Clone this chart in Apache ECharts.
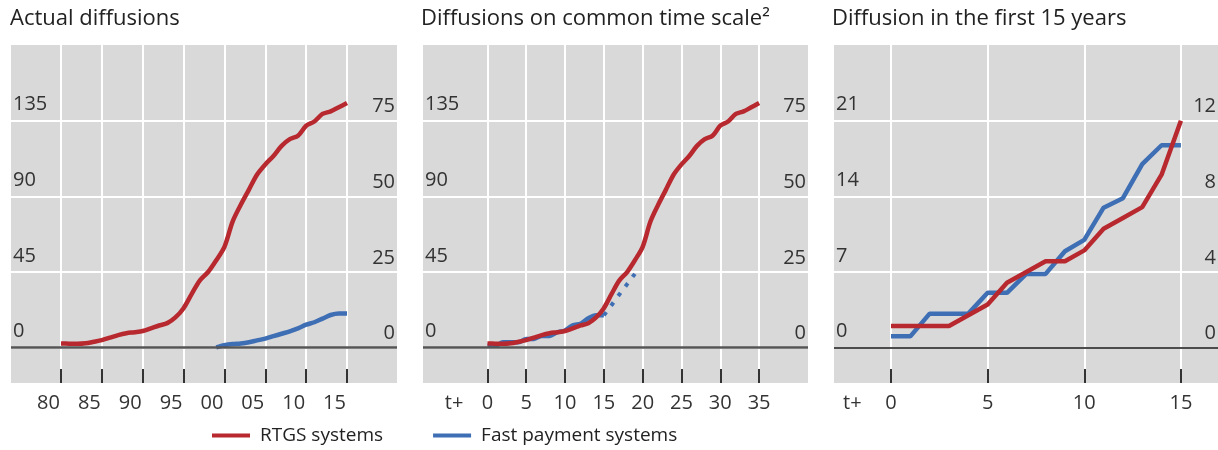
<!DOCTYPE html>
<html>
<head>
<meta charset="utf-8">
<script src="https://cdn.jsdelivr.net/npm/echarts@6/dist/echarts.min.js"></script>
<style>
  html, body { margin: 0; background: #fff; }
  #chart { width: 1218px; height: 450px; }
</style>
</head>
<body>
<div id="chart"></div>
<script>
// panel 1: actual diffusions (calendar years)
const years = [1980, 1981, 1982, 1983, 1984, 1985, 1986, 1987, 1988, 1989,
  1990, 1991, 1992, 1993, 1994, 1995, 1996, 1997, 1998, 1999,
  2000, 2001, 2002, 2003, 2004, 2005, 2006, 2007, 2008, 2009,
  2010, 2011, 2012, 2013, 2014, 2015];
const rtgsActual = [2.5, 2.4, 2.3, 2.6, 3.5, 4.5, 6, 7.5, 8.6, 9.2,
  9.9, 11.5, 13.2, 14.6, 18, 23.5, 32, 40, 45, 52,
  60, 75, 85, 94, 103, 109, 114, 120, 124, 126,
  132, 134.5, 139, 140.5, 143, 145.5];
const fpsYears = [1999, 2000, 2001, 2002, 2003, 2004, 2005, 2006, 2007,
  2008, 2009, 2010, 2011, 2012, 2013, 2014, 2015];
const fpsActual = [0.1, 0.8, 1.2, 1.4, 1.8, 2.4, 3.0, 3.8, 4.6,
  5.4, 6.4, 7.6, 8.4, 9.6, 10.8, 11.3, 11.3];

// panel 2: common time scale (t+ years since start)
const commonT = [0, 1, 2, 3, 4, 5, 6, 7, 8, 9, 10, 11, 12, 13, 14, 15, 16, 17,
  18, 19, 20, 21, 22, 23, 24, 25, 26, 27, 28, 29, 30, 31, 32, 33, 34, 35];
const projT = [15, 16, 17, 18, 19];
const fpsProjection = [10.7, 14.1, 17.6, 21.0, 24.4];

// panel 3: first 15 years
const first15T = [0, 1, 2, 3, 4, 5, 6, 7, 8, 9, 10, 11, 12, 13, 14, 15];
const rtgsFirst15 = [2, 2, 2, 2, 3, 4, 6, 7, 8, 8, 9, 11, 12, 13, 16, 21];
const fpsFirst15 = [0.6, 0.6, 1.8, 1.8, 1.8, 2.9, 2.9, 3.9, 3.9, 5.1, 5.7, 7.4, 7.9, 9.7, 10.7, 10.7];

// ticks
const yearTicks = [1980, 1985, 1990, 1995, 2000, 2005, 2010, 2015];
const commonTicks = [0, 5, 10, 15, 20, 25, 30, 35];
const first15Ticks = [0, 5, 10, 15];
const leftTicks = [0, 45, 90, 135];
const rightTicks = [0, 25, 50, 75];
const leftTicks15 = [0, 7, 14, 21];
const rightTicks15 = [0, 4, 8, 12];

const FONT = "Open Sans";
const RED = "#b8292f";
const BLUE = "#3e6eb4";
const zip = (xs, ys) => xs.map((x, i) => [x, ys[i]]);

const chart = echarts.init(document.getElementById("chart"));

const gridBase = { top: 45, height: 338, show: true, backgroundColor: "#d9d9d9", borderWidth: 0, outerBoundsMode: "none" };

const xAxisBase = (gridIndex, min, max, ticks, labels, formatter, pad) => ({
  type: "value",
  gridIndex,
  min,
  max,
  axisLine: { show: false, onZero: false },
  axisTick: { show: true, inside: true, length: 14, lineStyle: { color: "#333", width: 2 }, customValues: ticks },
  axisLabel: { margin: 10, fontSize: 20, fontFamily: FONT, color: "#333", customValues: labels, formatter, padding: pad },
  splitLine: { show: true, lineStyle: { color: "#fff", width: 2 } },
});

const yAxisBase = (gridIndex, pos, min, max, ticks, pad, grid) => ({
  type: "value",
  gridIndex,
  position: pos,
  min,
  max,
  axisLine: { show: false },
  axisTick: { show: false, customValues: ticks },
  axisLabel: { inside: true, margin: 2, fontSize: 20, fontFamily: FONT, color: "#333",
    verticalAlign: "bottom", padding: pad, customValues: ticks },
  splitLine: { show: grid, lineStyle: { color: "#fff", width: 2 } },
});

const zeroLine = (color, width) => ({
  silent: true,
  symbol: "none",
  label: { show: false },
  lineStyle: { color, width, type: "solid" },
  data: [{ yAxis: 0 }],
});

const lineSeries = (name, x, y, data, color, extra) => Object.assign({
  name,
  type: "line",
  xAxisIndex: x,
  yAxisIndex: y,
  data,
  color,
  symbol: "none",
  smooth: false,
  lineStyle: { color, width: 4.5 },
}, extra || {});

const titleStyle = { fontSize: 22, fontWeight: "normal", color: "#222", fontFamily: FONT };

chart.setOption({
  animation: false,
  title: [
    { text: "Actual diffusions", left: 10, top: 8, padding: 0, textStyle: titleStyle },
    { text: "Diffusions on common time scale\u00B2", left: 421, top: 8, padding: 0, textStyle: titleStyle },
    { text: "Diffusion in the first 15 years", left: 832, top: 8, padding: 0, textStyle: titleStyle },
  ],
  legend: {
    data: ["RTGS systems", "Fast payment systems"],
    left: 207,
    top: 421,
    icon: "rect",
    itemWidth: 38,
    itemHeight: 4,
    itemGap: 50,
    textStyle: { fontFamily: FONT, fontSize: 19, color: "#222", padding: [0, 0, 0, 5] },
  },
  grid: [
    Object.assign({ left: 11, width: 386 }, gridBase),
    Object.assign({ left: 423, width: 385 }, gridBase),
    Object.assign({ left: 834, width: 384 }, gridBase),
  ],
  xAxis: [
    xAxisBase(0, 1973.88, 2021.12, yearTicks, yearTicks, v => String(v).slice(2), [0, 25, 0, 0]),
    xAxisBase(1, -8.3, 41.3, commonTicks, [-4.3].concat(commonTicks), v => (v < 0 ? "t+" : v), 0),
    xAxisBase(2, -2.95, 16.92, first15Ticks, [-2].concat(first15Ticks), v => (v < 0 ? "t+" : v), 0),
  ],
  yAxis: [
    yAxisBase(0, "left", -21, 180, leftTicks, [0, 0, 6, 0], true),
    yAxisBase(0, "right", -21 * 25 / 45, 100, rightTicks, [0, 0, 4, 0], false),
    yAxisBase(1, "left", -21, 180, leftTicks, [0, 0, 6, 0], true),
    yAxisBase(1, "right", -21 * 25 / 45, 100, rightTicks, [0, 0, 4, 0], false),
    yAxisBase(2, "left", -21 * 7 / 45, 28, leftTicks15, [0, 0, 6, 0], true),
    yAxisBase(2, "right", -21 * 4 / 45, 16, rightTicks15, [0, 0, 4, 0], false),
  ],
  series: [
    lineSeries("RTGS systems", 0, 0, zip(years, rtgsActual), RED, { markLine: zeroLine("#555", 2.5), z: 3, smooth: 0.3 }),
    lineSeries("Fast payment systems", 0, 1, zip(fpsYears, fpsActual), BLUE, { z: 4, smooth: 0.3 }),
    lineSeries("Fast payment systems", 1, 3, zip(first15T, fpsFirst15), BLUE, { markLine: zeroLine("#555", 2.5), z: 2, smooth: 0.3 }),
    lineSeries("Fast payment systems", 1, 3, zip(projT, fpsProjection), BLUE,
      { z: 2, lineStyle: { color: BLUE, width: 4, type: [4, 8] } }),
    lineSeries("RTGS systems", 1, 2, zip(commonT, rtgsActual), RED, { z: 3, smooth: 0.3 }),
    lineSeries("Fast payment systems", 2, 5, zip(first15T, fpsFirst15), BLUE, { markLine: zeroLine("#111", 1.5), z: 2 }),
    lineSeries("RTGS systems", 2, 4, zip(first15T, rtgsFirst15), RED, { z: 3 }),
  ],
});
</script>
</body>
</html>
